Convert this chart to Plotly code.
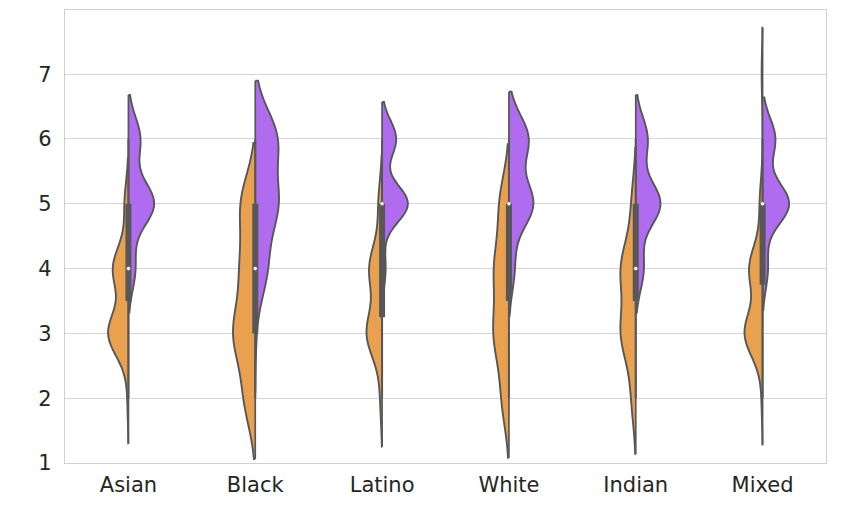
import numpy as np
import plotly.graph_objects as go

categories = ["Asian", "Black", "Latino", "White", "Indian", "Mixed"]
scores = [1, 2, 3, 4, 5, 6, 7]

# estimated number of responses per score (1..7), first group (orange, left half)
orange_counts = {
    "Asian":  [0, 1, 21, 16, 4, 0, 0],
    "Black":  [0, 14, 28, 18, 19, 0, 0],
    "Latino": [0, 2, 17, 14, 4, 0, 0],
    "White":  [0, 9, 19, 18, 12, 0, 0],
    "Indian": [0, 5, 18, 18, 5, 0, 0],
    "Mixed":  [0, 1, 19, 14, 3, 0, 1],
}
# second group (purple, right half)
purple_counts = {
    "Asian":  [0, 0, 0, 7, 26, 12, 0],
    "Black":  [0, 0, 1, 15, 28, 28, 0],
    "Latino": [0, 0, 0, 3, 22, 12, 0],
    "White":  [0, 0, 0, 6, 26, 21, 0],
    "Indian": [0, 0, 0, 8, 25, 12, 0],
    "Mixed":  [0, 0, 0, 5, 25, 12, 0],
}
# KDE bandwidths per half
orange_bw = [0.35, 0.47, 0.375, 0.46, 0.43, 0.36]
purple_bw = [0.34, 0.45, 0.285, 0.365, 0.34, 0.32]

ORANGE = "#E9A150"
PURPLE = "#B06CEF"
GRAY = "#575757"
# violin width (data units, full) per unit of peak count-density (area scaling)
WIDTH_PER_DENSITY = 0.0132

fig = go.Figure()

def samples(counts):
    return np.repeat(np.array(scores, dtype=float), counts)

grid = np.linspace(0, 8.5, 1701)

def peak_count_density(counts, bw):
    c = np.array(counts, dtype=float)[:, None]
    k = np.array(scores, dtype=float)[:, None]
    dens = (c * np.exp(-0.5 * ((grid[None, :] - k) / bw) ** 2)).sum(axis=0)
    return dens.max() / (bw * np.sqrt(2 * np.pi))

def add_half(cat, counts, bw, side, color):
    y = samples(counts)
    w = WIDTH_PER_DENSITY * peak_count_density(counts, bw)
    fig.add_trace(go.Violin(
        x=[cat] * len(y), y=y, side=side, bandwidth=bw,
        spanmode="soft", scalemode="width", width=w,
        fillcolor=color, line=dict(color=GRAY, width=1.9), opacity=1,
        points=False, box_visible=False, meanline_visible=False,
        showlegend=False, hoverinfo="skip"))

for i, cat in enumerate(categories):
    add_half(cat, orange_counts[cat], orange_bw[i], "negative", ORANGE)
    add_half(cat, purple_counts[cat], purple_bw[i], "positive", PURPLE)

# inner boxes (combined data) and centre outline
for i, cat in enumerate(categories):
    o = samples(orange_counts[cat])
    p = samples(purple_counts[cat])
    allv = np.concatenate([o, p])
    q25, q50, q75 = np.percentile(allv, [25, 50, 75])
    iqr = q75 - q25
    lo = allv[allv >= q25 - 1.5 * iqr].min()
    hi = allv[allv <= q75 + 1.5 * iqr].max()
    c_lo = min(o.min() - 2 * orange_bw[i], p.min() - 2 * purple_bw[i])
    c_hi = max(o.max() + 2 * orange_bw[i], p.max() + 2 * purple_bw[i])
    fig.add_trace(go.Scatter(x=[cat, cat], y=[c_lo, c_hi], mode="lines",
                             line=dict(color=GRAY, width=1.7),
                             showlegend=False, hoverinfo="skip"))
    fig.add_trace(go.Scatter(x=[cat, cat], y=[lo, hi], mode="lines",
                             line=dict(color=GRAY, width=2),
                             showlegend=False, hoverinfo="skip"))
    fig.add_trace(go.Scatter(x=[cat, cat], y=[q25, q75], mode="lines",
                             line=dict(color=GRAY, width=6),
                             showlegend=False, hoverinfo="skip"))
    fig.add_trace(go.Scatter(x=[cat], y=[q50], mode="markers",
                             marker=dict(color="white", size=4,
                                         line=dict(color=GRAY, width=0.5)),
                             showlegend=False, hoverinfo="skip"))

fig.update_layout(
    width=843, height=510,
    margin=dict(l=57, r=25, t=2, b=55),
    paper_bgcolor="white", plot_bgcolor="white",
    violinmode="overlay",
    font=dict(family="DejaVu Sans", size=21, color="#262626"),
    xaxis=dict(type="category", categoryorder="array", categoryarray=categories,
               range=[-0.5, 5.5], showgrid=False, showline=True, mirror=True,
               linecolor="#d0d0d0", linewidth=1.2, ticks="", zeroline=False,
               ticklabelstandoff=3),
    yaxis=dict(range=[1.0, 7.99], tickvals=[1, 2, 3, 4, 5, 6, 7],
               showgrid=True, gridcolor="#d6d6d6", gridwidth=1,
               showline=True, mirror=True, linecolor="#d0d0d0", linewidth=1.2,
               ticks="", zeroline=False, ticklabelstandoff=8),
)

fig.write_html("out.html")
